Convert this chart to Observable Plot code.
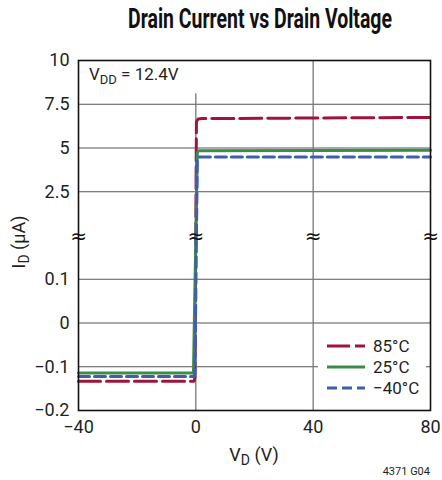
<!DOCTYPE html>
<html>
<head>
<meta charset="utf-8">
<script src="https://cdn.jsdelivr.net/npm/d3@7"></script>
<script src="https://cdn.jsdelivr.net/npm/@observablehq/plot@0.6"></script>
<style>
  html, body { margin: 0; padding: 0; background: #fff; }
  body { width: 442px; height: 480px; position: relative; overflow: hidden;
         font-family: Roboto, "Liberation Sans", sans-serif; color: #231f20; }
  #title { position: absolute; left: 260px; top: 2px; white-space: nowrap;
           font-size: 28px; font-weight: bold; color: #111; transform-origin: 0 0; }
  #chart { position: absolute; left: 0; top: 46px; }
  #legend { position: absolute; left: 318px; top: 336px; width: 108px; height: 63px; background: #fff; }
  .li { position: absolute; left: 0; height: 20px; font-size: 17px; line-height: 20px; }
  .li svg { position: absolute; left: 9px; top: 4px; }
  .li span { position: absolute; left: 55px; top: 0; white-space: nowrap; }
  #vdd { position: absolute; left: 89px; top: 64px; font-size: 17px; background: #fff; }
  #vdd sub { font-size: 13px; vertical-align: -4px; }
  #code { position: absolute; right: 12px; top: 465px; font-size: 11px; }
</style>
</head>
<body>
<div id="title">Drain Current vs Drain Voltage</div>
<div id="chart"></div>
<div id="vdd">V<sub>DD</sub> = 12.4V</div>
<div id="legend"></div>
<div id="code">4371 G04</div>
<script>
// ---- data (V_D in volts, I_D in µA) ----
const seriesNames = ["85°C", "25°C", "−40°C"];
const seriesColors = ["#a0143c", "#3b8b4a", "#3d5fae"];
const seriesDash = ["22,6", null, "11,5"];

const vd85 = [-40, -0.6, -0.3, 0.2, 0.8, 2, 80];
const id85 = [-0.133, -0.133, -0.125, 6.5, 6.66, 6.68, 6.75];

const vd25 = [-40, -1.0, -0.8, 0.5, 1.0, 80];
const id25 = [-0.114, -0.114, -0.11, 4.75, 4.85, 4.87];

const vdM40 = [-40, -0.6, -0.3, 0.5, 1.0, 80];
const idM40 = [-0.122, -0.122, -0.115, 4.35, 4.48, 4.48];

const xTicks = [-40, 0, 40, 80];
const xTickLabels = ["−40", "0", "40", "80"];
const yTicks = [-0.2, -0.1, 0, 0.1, 2.5, 5, 7.5, 10];
const yTickLabels = ["−0.2", "−0.1", "0", "0.1", "2.5", "5", "7.5", "10"];
const breakValue = 0.2;   // the axis break sits between 0.1 and 2.5

// ---- broken axis: map current to a piecewise-linear position ----
const toPos = v => v <= 0.2 ? v * 10 : v < 2.5 ? 2 + (v - 0.2) / 2.3 : 2 + v / 2.5;
const yTickPos = yTicks.map(toPos);

const rows = [];
[[vd85, id85], [vd25, id25], [vdM40, idM40]].forEach(([xs, ys], s) => {
  xs.forEach((x, i) => rows.push({series: seriesNames[s], x, y: ys[i], s}));
});

const font = 'Roboto, "Liberation Sans", sans-serif';

const plot = Plot.plot({
  width: 442,
  height: 434,
  marginTop: 14,
  marginBottom: 70,
  marginLeft: 78,
  marginRight: 12,
  style: {fontFamily: font, fontSize: "17px", color: "#231f20", background: "transparent"},
  x: {domain: [-40, 80]},
  y: {domain: [-2, 6]},
  marks: [
    Plot.ruleY(yTicks, {y: d => toPos(d), stroke: "#555", strokeWidth: 1.1, strokeOpacity: 1}),
    Plot.ruleX([40], {stroke: "#777", strokeWidth: 1.3}),
    Plot.ruleX([0], {y1: toPos(-0.2), y2: toPos(8.1), stroke: "#777", strokeWidth: 1.3}),
    ...seriesNames.map((name, s) =>
      Plot.line(rows.filter(r => r.s === s), {
        x: "x", y: d => toPos(d.y),
        stroke: seriesColors[s], strokeWidth: 3,
        strokeDasharray: seriesDash[s] || undefined,
        curve: "linear", strokeLinejoin: "round"
      })
    ),
    Plot.frame({stroke: "#111", strokeWidth: 1.6}),
    Plot.text(xTicks, {x: d => d, y: toPos(breakValue), text: () => "≈", fontSize: 20, fill: "#111", dy: 1, fontFamily: "DejaVu Sans"}),
    Plot.axisX(xTicks, {tickSize: 0, tickPadding: 10, tickFormat: (d, i) => xTickLabels[xTicks.indexOf(d)], label: null, fontSize: 18}),
    Plot.axisY(yTickPos, {tickSize: 0, tickPadding: 9, tickFormat: d => yTickLabels[yTickPos.indexOf(d)], label: null, fontSize: 18})
  ]
});
document.getElementById("chart").appendChild(plot);

// axis titles with subscripts
const svg = d3.select(plot);
const yl = svg.append("text")
  .attr("transform", "translate(25,196) rotate(-90)")
  .attr("text-anchor", "middle").attr("font-size", 18).attr("fill", "#231f20");
yl.append("tspan").text("I");
yl.append("tspan").attr("font-size", 14).attr("dy", 4).text("D");
yl.append("tspan").attr("dy", -4).text(" (μA)");

const xl = svg.append("text")
  .attr("x", 254).attr("y", 415)
  .attr("text-anchor", "middle").attr("font-size", 18).attr("fill", "#231f20");
xl.append("tspan").text("V");
xl.append("tspan").attr("font-size", 14).attr("dy", 4).text("D");
xl.append("tspan").attr("dy", -4).text(" (V)");

// legend
const leg = document.getElementById("legend");
seriesNames.forEach((name, s) => {
  const div = document.createElement("div");
  div.className = "li";
  div.style.top = (s * 21) + "px";
  div.innerHTML = `<svg width="40" height="12"><line x1="0" y1="6" x2="38" y2="6" stroke="${seriesColors[s]}" stroke-width="3" ${seriesDash[s] ? `stroke-dasharray="${s === 0 ? "23,5" : "10,5"}"` : ""}/></svg><span>${name}</span>`;
  leg.appendChild(div);
});

// fit the title to the reference width (condensed look), centred on x≈260
const t = document.getElementById("title");
const w = t.getBoundingClientRect().width;
const k = 264 / w;
t.style.transform = `translate(${-132}px,0) scaleX(${k})`;
</script>
</body>
</html>
